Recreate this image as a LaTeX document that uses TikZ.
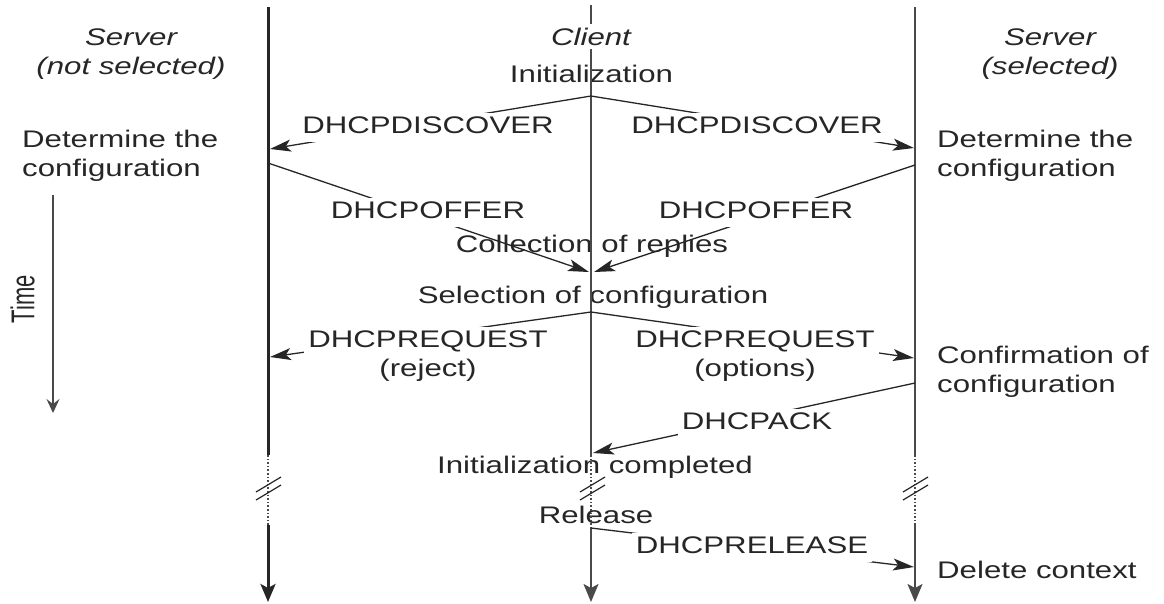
\documentclass[tikz,border=0pt]{standalone}
\usepackage{fontspec}
\usepackage{graphicx}
\setmainfont{Liberation Sans}[FakeStretch=1.3]
\newfontfamily\plainsans{Liberation Sans}
\usetikzlibrary{arrows.meta}
\definecolor{ink}{HTML}{262626}
\definecolor{lifegray}{HTML}{4A4A4A}
\begin{document}
\begin{tikzpicture}[x=1pt,y=-1pt,
  txt/.style={font=\fontsize{24}{29}\selectfont, text=ink, inner sep=0pt},
  itxt/.style={font=\fontsize{24}{29}\selectfont\itshape, text=ink, inner sep=0pt},
  msg/.style={txt, fill=white, inner xsep=4pt, inner ysep=3pt, align=center},
  conn/.style={draw=ink, line width=1.3pt, -{Stealth[length=21pt,width=12pt,inset=5pt]}},
  lifethick/.style={draw=ink, line width=3pt},
  lifethin/.style={draw=lifegray, line width=1.8pt},
  lifedots/.style={draw=lifegray, line width=1.2pt, dash pattern=on 1.6pt off 2pt},
  lifeend/.style={-{Stealth[length=18pt,width=15pt,inset=4pt]}},
  brk/.style={draw=ink, line width=1.2pt},
]
\useasboundingbox (0,0) rectangle (1164,603);

% plain texts (lines are drawn over them); multi-line nodes: base = last line
\node[itxt, anchor=base, align=center] (srvL) at (131,74) {Server\\(not selected)};
\node[itxt, anchor=base, align=center] (srvR) at (1050,74) {Server\\(selected)};
\node[txt, anchor=base] (init) at (591.5,82) {Initialization};
\node[txt, anchor=base west, align=left] (detL) at (22,176) {Determine the\\configuration};
\node[txt, anchor=base west, align=left] (detR) at (937,176) {Determine the\\configuration};
\node[txt, anchor=base] (coll) at (592,252) {Collection of replies};
\node[txt, anchor=base] (sel) at (593,303) {Selection of configuration};
\node[txt, anchor=base west, align=left] (conf) at (937,392) {Confirmation of\\configuration};
\node[txt, anchor=base] (done) at (595,473) {Initialization completed};
\node[txt, anchor=base] (rel) at (596,523) {Release};
\node[txt, anchor=base west] (del) at (937,578) {Delete context};
\node[inner sep=0pt, text=ink, rotate=90] (time) at (22.5,299) {\plainsans\fontsize{22}{26}\selectfont\scalebox{1}[1.5]{Time}};

% lifeline coordinates
\coordinate (Lt) at (268,7);   \coordinate (Ld1) at (268,455); \coordinate (Ld2) at (268,525); \coordinate (Lb) at (268,602);
\coordinate (Ct) at (591,5);   \coordinate (Cd1) at (591,455); \coordinate (Cd2) at (591,527); \coordinate (Cb) at (591,602);
\coordinate (Rt) at (915,7);   \coordinate (Rd1) at (915,455); \coordinate (Rd2) at (915,525); \coordinate (Rb) at (915,602);

\draw[lifethick] (Lt) -- (Ld1);
\draw[lifedots] (Ld1) -- (Ld2);
\draw[lifethick, lifeend] (Ld2) -- (Lb);
\draw[lifethin] (Ct) -- (Cd1);
\draw[lifedots] (Cd1) -- (Cd2);
\draw[lifethin, lifeend] (Cd2) -- (Cb);
\draw[lifethin] (Rt) -- (Rd1);
\draw[lifedots] (Rd1) -- (Rd2);
\draw[lifethin, lifeend] (Rd2) -- (Rb);

% break marks
\foreach \x in {268,592,915} {
  \draw[brk] (\x-12,492) -- (\x+13,477);
  \draw[brk] (\x-12,500) -- (\x+13,485);
}

% time arrow
\coordinate (Tt) at (53,195); \coordinate (Tb) at (53,413);
\draw[draw=lifegray, line width=1.4pt, -{Stealth[length=14pt,width=13pt,inset=5pt]}] (Tt) -- (Tb);

% message end points
\coordinate (c1) at (591,96);
\coordinate (l1) at (270,149);
\coordinate (r1) at (914,148);
\coordinate (l2) at (268,163);
\coordinate (r2) at (915,165);
\coordinate (c2a) at (589,272);
\coordinate (c2b) at (594,272);
\coordinate (c3) at (591,312);
\coordinate (l3) at (270,357);
\coordinate (r3) at (914,358);
\coordinate (r4) at (915,383);
\coordinate (c4) at (593,453);
\coordinate (c5) at (591,528);
\coordinate (r5) at (914,567);

\draw[conn] (c1) -- (l1);
\draw[conn] (c1) -- (r1);
\draw[conn] (l2) -- (c2a);
\draw[conn] (r2) -- (c2b);
\draw[conn] (c3) -- (l3);
\draw[conn] (c3) -- (r3);
\draw[conn] (r4) -- (c4);
\draw[conn] (c5) -- (r5);

% message labels
\node[msg, anchor=base, text height=17pt, text depth=6pt] (mdl) at (428,133) {DHCPDISCOVER};
\node[msg, anchor=base, text height=17pt, text depth=6pt] (mdr) at (757,133) {DHCPDISCOVER};
\node[msg, anchor=base, text height=17pt, text depth=6pt] (mol) at (428,218) {DHCPOFFER};
\node[msg, anchor=base, text height=17pt, text depth=6pt] (mor) at (756,218) {DHCPOFFER};
\node[msg, anchor=base] (mql) at (428,376) {DHCPREQUEST\\(reject)};
\node[msg, anchor=base] (mqr) at (755,376) {DHCPREQUEST\\(options)};
\node[msg, anchor=base, text height=17pt, text depth=6pt] (mack) at (757,429) {DHCPACK};
\node[msg, anchor=base, text height=17pt, text depth=6pt] (mrel) at (752,553) {DHCPRELEASE};
\node[itxt, fill=white, anchor=base, inner ysep=4pt] (cli) at (591,45) {Client};
\end{tikzpicture}
\end{document}
